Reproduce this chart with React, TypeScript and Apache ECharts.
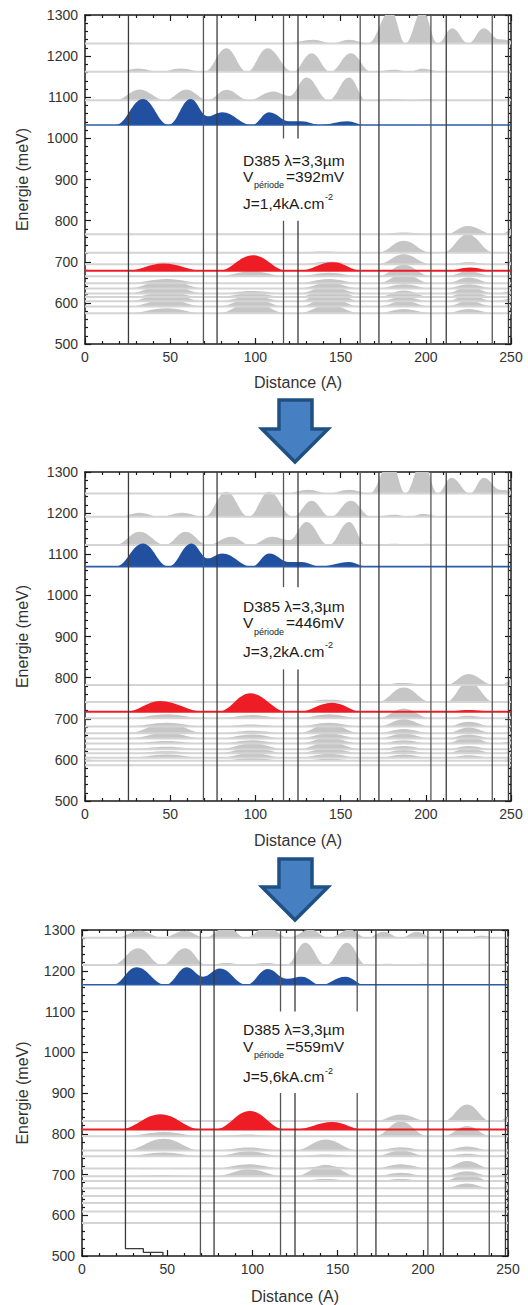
import { useEffect, useRef } from "react";
import * as echarts from "echarts";

// ---------- data ----------
const barriers = [25.5, 69.5, 77.5, 116.5, 125, 161.5, 172.5, 203, 212, 239, 248.5];
const xTickLabels = [0, 50, 100, 150, 200, 250];
const yTickLabels = [500, 600, 700, 800, 900, 1000, 1100, 1200, 1300];

// Panel 1 (V = 392 mV)
const p1TopEnergies = [1231, 1162, 1093];
const p1TopWaves = [
  [[0,0],[118,0],[134,9],[145,0],[155,9],[166,0],[179.5,80],[188,0],[198,80],[207,0],[215.5,37],[225,0],[234,37],[243,10],[250,6]],
  [[0,0],[20,0],[31,8],[44,0],[56,8],[70,0],[83,57],[95,0],[107,57],[122,0],[133,45],[144,0],[156,45],[168,0],[182,5],[190,0],[198,7],[210,0],[250,0]],
  [[0,0],[18,0],[32,26],[47,0],[59.5,26],[72,0],[83,25],[96,0],[110.5,21],[120,10],[130,55],[143,0],[155,55],[165,0],[182,3],[192,0],[200,3],[210,0],[250,0]],
];
const p1BlueEnergy = 1032.5;
const p1BlueWave = [[0,0],[18,0],[34,63],[49,0],[62,63],[72,21],[80.5,31],[98,0],[108,31],[120,9],[127,9],[138,0],[154,9],[164,0],[250,0]];
const p1RedEnergy = 678;
const p1RedWave = [[0,0],[24,0],[46,18],[70,0],[78,0],[98.5,38],[119,0],[125,0],[145.5,21],[163,0],[212,0],[226,8],[240,0],[250,0]];
const p1LowEnergies = [767, 722, 694, 665, 648, 635, 623, 614, 604, 591, 575];
const p1LowWaves = [
  [[0,0],[172,0],[187,4],[203,0],[212,0],[224.5,20],[240,0],[244,0],[252,22]],
  [[0,0],[120,0],[140,3],[162,0],[172,0],[187,29],[203,0],[210,0],[224.5,45],[240,0],[250,0]],
  [[0,0],[25,0],[48,4],[70,0],[78,0],[98,3],[118,0],[125,0],[143,6],[162,0],[172,0],[187,24],[203,0],[212,0],[225,5],[240,0],[244,0],[252,10]],
  [[0,0],[78,0],[98,12],[118,0],[125,0],[143,8],[162,0],[172,0],[187,28],[203,0],[212,0],[225,12],[240,0],[250,0]],
  [[0,0],[25,0],[48,10],[70,0],[125,0],[143,10],[162,0],[172,0],[187,22],[203,0],[212,0],[225,14],[240,0],[250,0]],
  [[0,0],[25,0],[48,21],[70,0],[125,0],[143,14],[162,0],[172,0],[187,10],[203,0],[212,0],[225,10],[240,0],[250,0]],
  [[0,0],[25,0],[48,22],[70,0],[78,0],[98,6],[118,0],[125,0],[143,18],[162,0],[212,0],[225,16],[240,0],[250,6]],
  [[0,0],[25,0],[48,12],[70,0],[78,0],[98,10],[118,0],[125,0],[143,22],[162,0],[172,0],[187,16],[203,0],[212,0],[225,14],[240,0],[250,0]],
  [[0,0],[25,0],[48,20],[70,0],[78,0],[98,12],[118,0],[125,0],[143,26],[162,0],[172,0],[187,10],[203,0],[212,0],[225,16],[240,0],[250,8]],
  [[0,0],[25,0],[48,18],[70,0],[78,0],[98,20],[118,0],[125,0],[143,22],[162,0],[172,0],[187,14],[203,0],[212,0],[225,14],[240,0],[250,0]],
  [[0,0],[25,0],[48,12],[70,0],[78,0],[98,28],[118,0],[125,0],[143,20],[162,0],[172,0],[187,10],[203,0],[212,0],[225,10],[240,0],[250,0]],
];

// Panel 2 (V = 446 mV)
const p2TopEnergies = [1248, 1191, 1122.5];
const p2TopWaves = [
  [[0,0],[118,0],[131,9],[143,0],[155,9],[167,0],[179.5,80],[188,0],[198,80],[207,0],[215,38],[226,0],[234,38],[244,8],[250,6]],
  [[0,0],[20,0],[32,10],[44,0],[57,10],[70,0],[83,61],[96,0],[108,61],[122,0],[133,39],[144,0],[156,39],[168,0],[182,5],[190,0],[198,7],[210,0],[250,0]],
  [[0,0],[18,0],[32,32],[47,0],[59,32],[72,0],[86,20],[97,0],[110,20],[120,12],[130,56],[143,0],[155,56],[165,0],[182,3],[192,0],[200,3],[210,0],[250,0]],
];
const p2BlueEnergy = 1070;
const p2BlueWave = [[0,0],[18,0],[34,56],[49,0],[62.5,56],[72,20],[80.5,32],[98,0],[108,32],[120,11],[127,11],[138,0],[155,11],[165,0],[250,0]];
const p2RedEnergy = 717;
const p2RedWave = [[0,0],[24,0],[44,26],[70,0],[78,0],[97,45],[119,0],[125,0],[145,22],[163,0],[212,0],[225,4],[240,0],[250,0]];
const p2LowEnergies = [782, 741, 701, 681, 665, 652, 640, 626, 616, 605, 598, 587];
const p2LowWaves = [
  [[0,0],[172,0],[186,5],[203,0],[212,0],[225,27],[240,0],[244,0],[252,24]],
  [[0,0],[125,0],[143,5],[162,0],[172,0],[187,35],[203,0],[212,0],[225,50],[240,0],[250,0]],
  [[0,0],[25,0],[48,10],[70,0],[78,0],[98,8],[118,0],[125,0],[143,10],[162,0],[172,0],[187,24],[203,0],[212,0],[225,6],[240,0],[244,0],[252,8]],
  [[0,0],[25,0],[48,9],[70,0],[78,0],[98,5],[118,0],[125,0],[143,9],[162,0],[172,0],[187,18],[203,0],[212,0],[225,12],[240,0],[250,0]],
  [[0,0],[25,0],[48,25],[70,0],[78,0],[98,6],[118,0],[125,0],[143,22],[162,0],[172,0],[187,10],[203,0],[212,0],[225,14],[240,0],[250,4]],
  [[0,0],[25,0],[48,14],[70,0],[78,0],[98,10],[118,0],[125,0],[143,12],[162,0],[172,0],[187,12],[203,0],[212,0],[225,10],[240,0],[250,0]],
  [[0,0],[25,0],[48,6],[70,0],[78,0],[98,8],[118,0],[125,0],[143,14],[162,0],[172,0],[187,8],[203,0],[212,0],[225,16],[240,0],[250,6]],
  [[0,0],[25,0],[48,6],[70,0],[78,0],[98,14],[118,0],[125,0],[143,18],[162,0],[172,0],[187,8],[203,0],[212,0],[225,8],[240,0],[250,0]],
  [[0,0],[25,0],[48,5],[70,0],[78,0],[98,14],[118,0],[125,0],[143,12],[162,0],[172,0],[187,8],[203,0],[212,0],[225,12],[240,0],[250,4]],
  [[0,0],[25,0],[48,8],[70,0],[78,0],[98,12],[118,0],[125,0],[143,10],[162,0],[172,0],[187,8],[203,0],[212,0],[225,6],[240,0],[250,0]],
  [[0,0],[78,0],[98,6],[118,0],[125,0],[143,5],[162,0],[250,0]],
  [[0,0],[250,0]],
];

// Panel 3 (V = 559 mV)
const p3TopEnergies = [1281, 1214];
const p3TopWaves = [
  [[0,0],[20,0],[34,17],[47,0],[60.5,17],[72,0],[85,28],[96,0],[108.5,28],[121,0],[134,20],[145,0],[157,20],[167,0],[177,15],[187,0],[196.5,15],[206,0],[220,2],[227,0],[234,5],[245,0],[250,0]],
  [[0,0],[18,0],[33,41],[47,0],[60.5,41],[73,0],[85,5],[96,0],[108,5],[120,0],[131,55],[143,0],[155.5,55],[167,0],[180,3],[190,0],[200,3],[210,0],[250,0]],
];
const p3BlueEnergy = 1165.5;
const p3BlueWave = [[0,0],[18,0],[32,43],[49,0],[61.5,43],[71,20],[81,40],[96.5,0],[109,39],[120,15],[129,20],[140,0],[154.5,20],[166,0],[250,0]];
const p3RedEnergy = 810.7;
const p3RedWave = [[0,0],[22,0],[46,37],[70,0],[78,0],[98.5,45],[119,0],[125,0],[147,18],[165,0],[212,0],[226,3],[240,0],[250,0]];
const p3LowEnergies = [831, 794, 759, 745, 715, 696, 684, 666, 647, 630, 609, 581];
const p3LowWaves = [
  [[0,0],[125,0],[143,2],[162,0],[172,0],[187,16],[203,0],[212,0],[226,41],[240,0],[244,0],[252,18]],
  [[0,0],[25,0],[48,10],[70,0],[78,0],[98,4],[118,0],[172,0],[187,36],[203,0],[212,0],[226,25],[240,0],[250,0]],
  [[0,0],[25,0],[48,29],[70,0],[78,0],[98,7],[118,0],[125,0],[143,27],[162,0],[172,0],[187,8],[203,0],[212,0],[226,10],[240,0],[250,0]],
  [[0,0],[25,0],[48,9],[70,0],[78,0],[98,12],[118,0],[125,0],[143,4],[162,0],[172,0],[187,14],[203,0],[212,0],[226,6],[240,0],[244,0],[252,10]],
  [[0,0],[78,0],[98,10],[118,0],[125,0],[143,5],[162,0],[172,0],[187,10],[203,0],[212,0],[226,18],[240,0],[250,0]],
  [[0,0],[25,0],[48,3],[70,0],[78,0],[98,17],[118,0],[125,0],[143,28],[162,0],[172,0],[187,8],[203,0],[212,0],[226,12],[240,0],[250,4]],
  [[0,0],[125,0],[143,5],[162,0],[172,0],[187,5],[203,0],[212,0],[226,18],[240,0],[244,0],[252,10]],
  [[0,0],[212,0],[226,12],[240,0],[244,0],[252,14]],
  [[0,0],[212,0],[226,3],[240,0],[250,0]],
  [[0,0],[250,0]],
  [[0,0],[250,0]],
  [[0,0],[250,0]],
];
// conduction-band step visible at the bottom of panel 3
const p3BandStep = [[25.5,1300],[25.5,518],[36,518],[36,509],[47.5,509],[47.5,500]];

const voltages = ["392mV", "446mV", "559mV"];
const currents = ["J=1,4kA.cm", "J=3,2kA.cm", "J=5,6kA.cm"];
const sampleLabel = "D385 \u03bb=3,3\u00b5m";

// ---------- layout / style ----------
const FONT = "Liberation Sans, Arial, sans-serif";
const GRAY_FILL = "#c6c6c6";
const GRAY_LINE = "#d4d4d4";
const BLUE_FILL = "#2150a0";
const BLUE_LINE = "#2a5caa";
const RED = "#ee1c24";
const BAR = "#3a3a3a";

const panels = [
  { left: 85, top: 15, width: 426, height: 329, nameGapX: 30, nameGapY: 55,
    top_: p1TopEnergies, topW: p1TopWaves, blueE: p1BlueEnergy, blueW: p1BlueWave,
    redE: p1RedEnergy, redW: p1RedWave, lowE: p1LowEnergies, lowW: p1LowWaves,
    gapLines: [116.5, 125], gap: [800, 1000], step: null as null | number[][],
    txt: { x: 243, l1: 160.5, l2: 176, l3: 203 } },
  { left: 85, top: 472, width: 426, height: 329, nameGapX: 31, nameGapY: 55,
    top_: p2TopEnergies, topW: p2TopWaves, blueE: p2BlueEnergy, blueW: p2BlueWave,
    redE: p2RedEnergy, redW: p2RedWave, lowE: p2LowEnergies, lowW: p2LowWaves,
    gapLines: [116.5, 125], gap: [820, 1020], step: null as null | number[][],
    txt: { x: 243, l1: 606, l2: 622.5, l3: 651 } },
  { left: 82, top: 930, width: 426, height: 327, nameGapX: 32, nameGapY: 52,
    top_: p3TopEnergies, topW: p3TopWaves, blueE: p3BlueEnergy, blueW: p3BlueWave,
    redE: p3RedEnergy, redW: p3RedWave, lowE: p3LowEnergies, lowW: p3LowWaves,
    gapLines: [116.5, 125, 161.5], gap: [900, 1100], step: p3BandStep as null | number[][],
    txt: { x: 243, l1: 1029, l2: 1046, l3: 1076.5 } },
];

function buildOption() {
  const grid: any[] = [];
  const xAxis: any[] = [];
  const yAxis: any[] = [];
  const series: any[] = [];
  const graphic: any[] = [];
  const axisColor = "#1a1a1a";

  panels.forEach((p, gi) => {
    grid.push({ left: p.left, top: p.top, width: p.width, height: p.height, containLabel: false });
    const tickStyle = { color: axisColor, width: 1.2 };
    xAxis.push({
      gridIndex: gi, type: "value", min: xTickLabels[0], max: xTickLabels[xTickLabels.length - 1], interval: 50,
      position: "bottom",
      axisLine: { onZero: false, lineStyle: { color: axisColor, width: 1.5 } },
      axisTick: { inside: true, length: 6, lineStyle: tickStyle },
      minorTick: { show: true, splitNumber: 5, length: 3, lineStyle: tickStyle },
      splitLine: { show: false },
      axisLabel: { fontSize: 14, color: "#333", margin: 6, fontFamily: FONT, formatter: (v: number) => String(v) },
      name: "Distance (A)", nameLocation: "middle", nameGap: p.nameGapX,
      nameTextStyle: { fontSize: 16, color: "#333", fontFamily: FONT },
    });
    xAxis.push({
      gridIndex: gi, type: "value", min: 0, max: 250, interval: 50, position: "top",
      axisLine: { onZero: false, lineStyle: { color: axisColor, width: 1.5 } },
      axisTick: { inside: true, length: 6, lineStyle: tickStyle },
      minorTick: { show: true, splitNumber: 5, length: 3, lineStyle: tickStyle },
      splitLine: { show: false }, axisLabel: { show: false },
    });
    yAxis.push({
      gridIndex: gi, type: "value", min: yTickLabels[0], max: yTickLabels[yTickLabels.length - 1], interval: 100,
      position: "left",
      axisLine: { onZero: false, lineStyle: { color: axisColor, width: 1.5 } },
      axisTick: { inside: true, length: 6, lineStyle: tickStyle },
      minorTick: { show: true, splitNumber: 5, length: 3, lineStyle: tickStyle },
      splitLine: { show: false },
      axisLabel: { fontSize: 14, color: "#333", margin: 7, fontFamily: FONT, formatter: (v: number) => String(v) },
      name: "Energie (meV)", nameLocation: "middle", nameGap: p.nameGapY, nameRotate: 90,
      nameTextStyle: { fontSize: 16, color: "#333", fontFamily: FONT },
    });
    yAxis.push({
      gridIndex: gi, type: "value", min: 500, max: 1300, interval: 100, position: "right",
      axisLine: { onZero: false, lineStyle: { color: axisColor, width: 1.5 } },
      axisTick: { inside: true, length: 6, lineStyle: tickStyle },
      minorTick: { show: true, splitNumber: 5, length: 3, lineStyle: tickStyle },
      splitLine: { show: false }, axisLabel: { show: false },
    });
    const xi = gi * 2, yi = gi * 2;
    const wave = (e: number, w: number[][], color: string, z: number) => ({
      type: "line", xAxisIndex: xi, yAxisIndex: yi, z, silent: true, clip: true,
      data: w.map(([x, h]) => [x, e + h]),
      smooth: 0.4, smoothMonotone: "x", symbol: "none", showSymbol: false,
      lineStyle: { width: 0, opacity: 0 },
      areaStyle: { color, opacity: 1, origin: e },
    });
    const hline = (e: number, color: string, width: number, z: number) => ({
      type: "line", xAxisIndex: xi, yAxisIndex: yi, z, silent: true,
      data: [[0, e], [250, e]], symbol: "none", showSymbol: false,
      lineStyle: { color, width },
    });
    const seg = (pts: number[][], color: string, width: number, z: number) => ({
      type: "line", xAxisIndex: xi, yAxisIndex: yi, z, silent: true,
      data: pts, symbol: "none", showSymbol: false,
      lineStyle: { color, width },
    });

    const grayE = [...p.top_, ...p.lowE];
    const grayW = [...p.topW, ...p.lowW];
    grayE.forEach((e, k) => series.push(wave(e, grayW[k], GRAY_FILL, 2)));
    grayE.forEach((e) => series.push(hline(e, GRAY_LINE, 2, 3)));
    series.push(wave(p.blueE, p.blueW, BLUE_FILL, 4));
    series.push(hline(p.blueE, BLUE_LINE, 1.6, 5));
    series.push(wave(p.redE, p.redW, RED, 4));
    series.push(hline(p.redE, RED, 2, 5));

    barriers.forEach((b, k) => {
      const col = k % 2 === 0 ? BAR : "#555";
      if (p.step && b === p.step[0][0]) {
        series.push(seg(p.step, BAR, 1.3, 6));
      } else if (p.gapLines.includes(b)) {
        series.push(seg([[b, 500], [b, p.gap[0]]], col, 1.3, 6));
        series.push(seg([[b, p.gap[1]], [b, 1300]], col, 1.3, 6));
      } else {
        series.push(seg([[b, 500], [b, 1300]], col, 1.3, 6));
      }
    });

    const t = p.txt;
    const txt = (text: string, x: number, y: number, size: number) => ({
      type: "text", x, y, z: 100,
      style: { text, fill: "#1a1a1a", font: `${size}px ${FONT}`, align: "left", verticalAlign: "middle",
        textAlign: "left", textVerticalAlign: "middle" },
    });
    graphic.push(txt(sampleLabel, t.x, t.l1, 15.5));
    graphic.push(txt("V", t.x, t.l2, 15.5));
    graphic.push(txt("p\u00e9riode", t.x + 11, t.l2 + 9, 9));
    graphic.push(txt("=" + voltages[gi], t.x + 43, t.l2, 15.5));
    graphic.push(txt(currents[gi], t.x, t.l3, 15.5));
    graphic.push(txt("-2", t.x + 82, t.l3 - 6, 9));
  });

  const arrow = (top: number, headY: number, tip: number) => ({
    type: "polygon", z: 100,
    shape: { points: [[279, top], [312, top], [312, headY], [328, headY], [295, tip], [262, headY], [279, headY]] },
    style: { fill: "#4680c2", stroke: "#1f5082", lineWidth: 3.5, lineJoin: "miter" },
  });
  graphic.push(arrow(400, 429, 462));
  graphic.push(arrow(859, 887, 920));

  return { animation: false, backgroundColor: "#fff", grid, xAxis, yAxis, series, graphic };
}

export default function App() {
  const ref = useRef<HTMLDivElement>(null);
  useEffect(() => {
    if (!ref.current) return;
    const chart = echarts.init(ref.current, undefined, { renderer: "svg" });
    chart.setOption(buildOption() as any);
    return () => chart.dispose();
  }, []);
  return (
    <div
      ref={ref}
      style={{ position: "absolute", left: 0, top: 0, width: 528, height: 1305, background: "#fff" }}
    />
  );
}
